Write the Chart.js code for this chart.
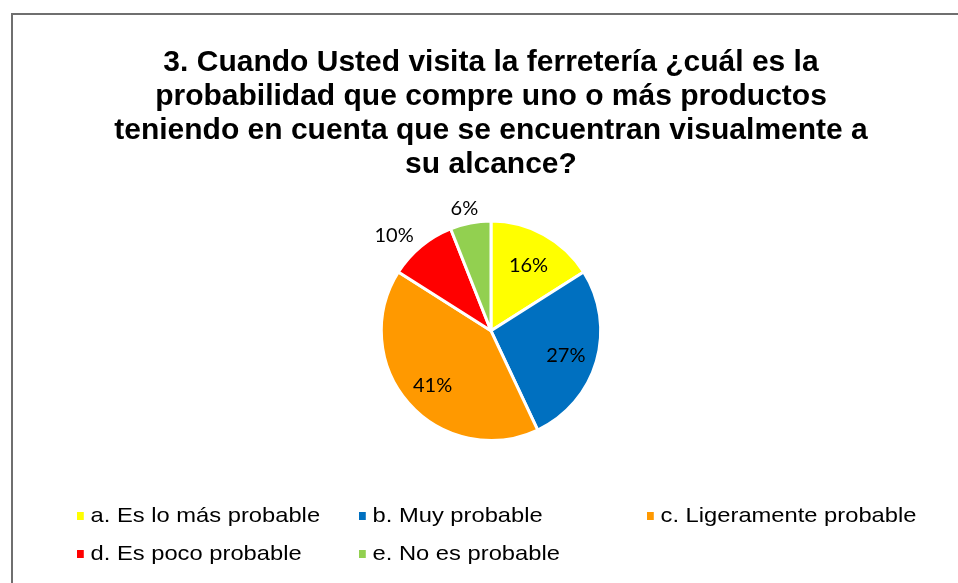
<!DOCTYPE html>
<html>
<head>
<meta charset="utf-8">
<script src="https://cdn.jsdelivr.net/npm/chart.js@4.4.1/dist/chart.umd.min.js"></script>
<style>
  html, body { margin: 0; padding: 0; background: #fff; }
  .wrap { position: relative; width: 958px; height: 583px; }
  #legend {
    position: absolute; left: 0; top: 0; width: 958px; height: 583px;
    pointer-events: none;
    font-family: "Liberation Sans", Arial, sans-serif; font-size: 21px; color: #000;
  }
  .item { position: absolute; white-space: nowrap; line-height: 24px; transform: scaleX(1.13); transform-origin: 0 50%; }
  .item i { display: inline-block; width: 6px; height: 8px; margin-right: 6px; vertical-align: 2px; }
</style>
</head>
<body>
<div class="wrap">
  <canvas id="myChart" width="958" height="583"></canvas>
  <div id="legend"></div>
</div>
<script>
const categories = [
  'a. Es lo más probable',
  'b. Muy probable',
  'c. Ligeramente probable',
  'd. Es poco probable',
  'e. No es probable'
];
const percents = [16, 27, 41, 10, 6];
const sliceColors = ['#FFFF00', '#0070C0', '#FF9900', '#FF0000', '#92D050'];
const titleLines = [
  '3. Cuando Usted visita la ferretería ¿cuál es la',
  'probabilidad que compre uno o más productos',
  'teniendo en cuenta que se encuentran visualmente a',
  'su alcance?'
];

document.addEventListener('DOMContentLoaded', () => {
  const canvas = document.getElementById('myChart');
  const ctx = canvas.getContext('2d');

  // frame line like the office chart border (top + left only visible)
  const framePlugin = {
    id: 'frame',
    beforeDraw: (chart) => {
      const { ctx } = chart;
      ctx.save();
      ctx.strokeStyle = '#6f6f6f';
      ctx.lineWidth = 2;
      ctx.beginPath();
      ctx.moveTo(12, chart.height);
      ctx.lineTo(12, 14);
      ctx.lineTo(chart.width, 14);
      ctx.stroke();
      ctx.restore();
    }
  };

  // percent labels: inside for big slices, outside for small ones
  const labelPlugin = {
    id: 'sliceLabels',
    afterDatasetsDraw: (chart) => {
      const { ctx } = chart;
      const meta = chart.getDatasetMeta(0);
      ctx.save();
      ctx.font = '20px Lato, "Open Sans", sans-serif';
      ctx.fillStyle = '#000';
      ctx.textAlign = 'center';
      ctx.textBaseline = 'middle';
      meta.data.forEach((arc, i) => {
        const { x, y, startAngle, endAngle, outerRadius } = arc.getProps(['x', 'y', 'startAngle', 'endAngle', 'outerRadius'], true);
        const mid = (startAngle + endAngle) / 2;
        const dx = Math.cos(mid), dy = Math.sin(mid);
        const text = percents[i] + '%';
        let lx, ly;
        if (percents[i] < 12) {
          const w = ctx.measureText(text).width;
          const r = outerRadius + 9;
          lx = x + dx * r + dx * w * 0.85;
          ly = y + dy * r + dy * 9;
        } else {
          const r = outerRadius * 0.71;
          lx = x + dx * r;
          ly = y + dy * r;
        }
        ctx.fillText(text, lx, ly + 3);
      });
      ctx.restore();
    }
  };

  const myChart = new Chart(ctx, {
    type: 'pie',
    data: {
      labels: categories,
      datasets: [{
        data: percents,
        backgroundColor: sliceColors,
        borderColor: '#ffffff',
        borderWidth: 3
      }]
    },
    options: {
      responsive: false,
      animation: false,
      layout: {
        padding: { top: 46, left: 24, right: 0, bottom: 141 }
      },
      plugins: {
        legend: { display: false },
        tooltip: { enabled: false },
        title: {
          display: true,
          text: titleLines,
          color: '#000',
          font: { family: '"Liberation Sans", Arial, sans-serif', size: 30, weight: 'bold', lineHeight: 1.13 },
          padding: { top: 0, bottom: 38 }
        }
      }
    },
    plugins: [framePlugin, labelPlugin]
  });

  // legend in fixed columns, built from the chart's own legend items
  const legendEl = document.getElementById('legend');
  const cols = [77, 359, 647];
  const rows = [503, 541];
  const items = myChart.options.plugins.legend.labels.generateLabels(myChart);
  items.forEach((item, i) => {
    const div = document.createElement('div');
    div.className = 'item';
    div.style.left = cols[i % 3] + 'px';
    div.style.top = rows[Math.floor(i / 3)] + 'px';
    const box = document.createElement('i');
    box.style.background = item.fillStyle;
    div.appendChild(box);
    div.appendChild(document.createTextNode(item.text));
    legendEl.appendChild(div);
  });
});
</script>
</body>
</html>
